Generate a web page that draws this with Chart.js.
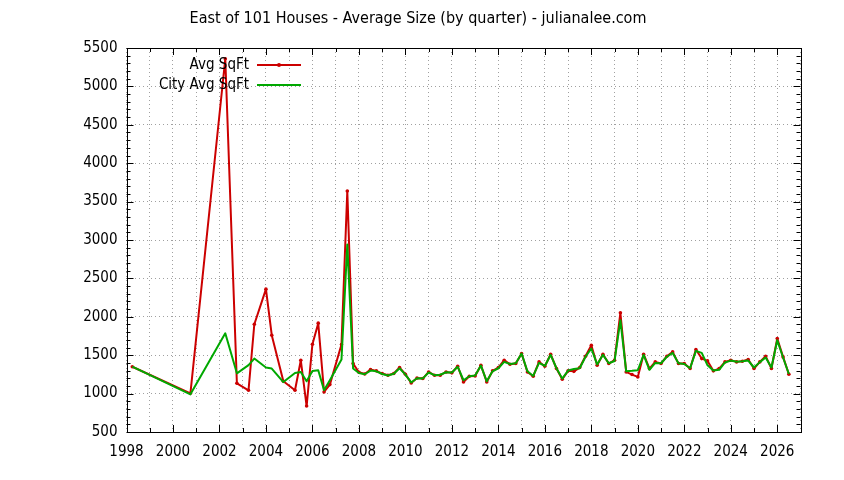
<!DOCTYPE html>
<html>
<head>
<meta charset="utf-8">
<script src="https://cdn.jsdelivr.net/npm/chart.js@4.4.1/dist/chart.umd.min.js"></script>
<style>
  html, body { margin: 0; padding: 0; background: #fff; }
  canvas { display: block; }
</style>
</head>
<body>
<canvas id="chart" width="844" height="480"></canvas>
<script>
// Quarter positions (decimal years) and the two series
const quarters = [
  1998.25, 2000.75, 2002.25, 2002.75, 2003.25, 2003.5, 2004.0, 2004.25, 2004.75,
  2005.25, 2005.5, 2005.75, 2006.0, 2006.25, 2006.5, 2006.75, 2007.25, 2007.5, 2007.75,
  2008.0, 2008.25, 2008.5, 2008.75, 2009.0, 2009.25, 2009.5, 2009.75,
  2010.0, 2010.25, 2010.5, 2010.75, 2011.0, 2011.25, 2011.5, 2011.75,
  2012.0, 2012.25, 2012.5, 2012.75, 2013.0, 2013.25, 2013.5, 2013.75,
  2014.0, 2014.25, 2014.5, 2014.75, 2015.0, 2015.25, 2015.5, 2015.75,
  2016.0, 2016.25, 2016.5, 2016.75, 2017.0, 2017.25, 2017.5, 2017.75,
  2018.0, 2018.25, 2018.5, 2018.75, 2019.0, 2019.25, 2019.5, 2019.75,
  2020.0, 2020.25, 2020.5, 2020.75, 2021.0, 2021.25, 2021.5, 2021.75,
  2022.0, 2022.25, 2022.5, 2022.75, 2023.0, 2023.25, 2023.5, 2023.75,
  2024.0, 2024.25, 2024.5, 2024.75, 2025.0, 2025.25, 2025.5, 2025.75,
  2026.0, 2026.25, 2026.5
];

const avgSqft = [
  1350, 1004, 5360, 1134, 1043, 1903, 2360, 1760, 1160,
  1043, 1434, 838, 1643, 1917, 1021, 1117, 1639, 3638, 1391,
  1278, 1255, 1313, 1296, 1261, 1239, 1261, 1339,
  1252, 1139, 1204, 1196, 1282, 1239, 1239, 1282,
  1270, 1356, 1152, 1226, 1230, 1369, 1152, 1296,
  1339, 1435, 1382, 1391, 1522, 1282, 1226, 1413,
  1356, 1513, 1326, 1187, 1296, 1290, 1339, 1487,
  1630, 1369, 1513, 1391, 1435, 2052, 1282, 1248,
  1217, 1513, 1326, 1413, 1391, 1487, 1543, 1391,
  1391, 1326, 1574, 1456, 1426, 1296, 1326, 1413,
  1435, 1413, 1422, 1443, 1326, 1413, 1487, 1326,
  1717, 1478, 1252
];

const cityAvgSqft = [
  1350, 990, 1785, 1264, 1370, 1456, 1339, 1326, 1150,
  1269, 1282, 1160, 1295, 1304, 1043, 1173, 1443, 2943, 1326,
  1269, 1252, 1300, 1290, 1255, 1235, 1258, 1330,
  1248, 1145, 1200, 1198, 1275, 1240, 1245, 1278,
  1275, 1350, 1174, 1226, 1235, 1365, 1160, 1290,
  1330, 1413, 1385, 1395, 1522, 1290, 1230, 1400,
  1360, 1505, 1330, 1195, 1300, 1320, 1330, 1480,
  1587, 1380, 1505, 1395, 1425, 1956, 1290, 1296,
  1304, 1505, 1310, 1400, 1395, 1480, 1530, 1395,
  1385, 1330, 1556, 1530, 1369, 1300, 1310, 1405,
  1430, 1415, 1420, 1430, 1340, 1410, 1470, 1340,
  1695, 1470, 1255
];

const seriesNames = ["Avg SqFt", "City Avg SqFt"];
const chartTitle = "East of 101 Houses - Average Size (by quarter) - julianalee.com";

const FONT = "'DejaVu Sans Condensed', 'DejaVu Sans', sans-serif";
const RED = "#cc0000";
const GREEN = "#00a800";

// Title, gnuplot-style legend (text left of sample), frame and inward ticks
const gnuplotDecor = {
  id: "gnuplotDecor",
  afterDraw(chart) {
    const { ctx, chartArea: a, scales: { x, y } } = chart;
    ctx.save();

    // title
    ctx.fillStyle = "#000";
    ctx.font = `16px ${FONT}`;
    ctx.textAlign = "center";
    ctx.textBaseline = "middle";
    ctx.fillText(chartTitle, 418, 19);

    // frame
    ctx.strokeStyle = "#000";
    ctx.lineWidth = 1;
    ctx.setLineDash([]);
    ctx.strokeRect(Math.round(a.left) + 0.5, Math.round(a.top) + 0.5,
                   Math.round(a.right - a.left), Math.round(a.bottom - a.top));

    // x ticks: every year, longer on labelled (even) years
    ctx.beginPath();
    for (let yr = Math.ceil(x.min); yr <= x.max; yr++) {
      const px = Math.round(x.getPixelForValue(yr)) + 0.5;
      const len = yr % 2 === 0 ? 7 : 4;
      ctx.moveTo(px, a.bottom); ctx.lineTo(px, a.bottom - len);
      ctx.moveTo(px, a.top);    ctx.lineTo(px, a.top + len);
    }
    // y ticks: minor every 100, major every 500
    for (let v = y.min; v <= y.max; v += 100) {
      const py = Math.round(y.getPixelForValue(v)) + 0.5;
      const len = v % 500 === 0 ? 7 : 4;
      ctx.moveTo(a.left, py);  ctx.lineTo(a.left + len, py);
      ctx.moveTo(a.right, py); ctx.lineTo(a.right - len, py);
    }
    ctx.stroke();

    // legend
    ctx.font = `15px ${FONT}`;
    ctx.textAlign = "right";
    const rows = [
      { label: seriesNames[0], color: RED, marker: true, y: 65 },
      { label: seriesNames[1], color: GREEN, marker: false, y: 85 }
    ];
    rows.forEach(r => {
      ctx.fillStyle = "#000";
      ctx.fillText(r.label, 249, r.y);
      ctx.strokeStyle = r.color;
      ctx.lineWidth = 2;
      ctx.beginPath();
      ctx.moveTo(257, r.y); ctx.lineTo(301, r.y);
      ctx.stroke();
      if (r.marker) {
        ctx.fillStyle = r.color;
        ctx.beginPath();
        ctx.arc(279, r.y, 2, 0, Math.PI * 2);
        ctx.fill();
      }
    });

    ctx.restore();
  }
};

const toPoints = vals => quarters.map((q, i) => ({ x: q, y: vals[i] }));

new Chart(document.getElementById("chart"), {
  type: "line",
  data: {
    datasets: [
      {
        label: seriesNames[0],
        data: toPoints(avgSqft),
        borderColor: RED,
        backgroundColor: RED,
        borderWidth: 2,
        borderJoinStyle: "round",
        pointRadius: 1.8,
        pointBorderWidth: 0,
        tension: 0,
        order: 1
      },
      {
        label: seriesNames[1],
        data: toPoints(cityAvgSqft),
        borderColor: GREEN,
        backgroundColor: GREEN,
        borderWidth: 2,
        borderJoinStyle: "round",
        pointRadius: 0,
        tension: 0,
        order: 0
      }
    ]
  },
  options: {
    responsive: false,
    animation: false,
    layout: { padding: { left: 0, right: 43.5, top: 48, bottom: 0 } },
    plugins: {
      legend: { display: false },
      title: { display: false },
      tooltip: { enabled: false }
    },
    scales: {
      x: {
        type: "linear",
        min: 1998,
        max: 2027,
        afterFit: s => { s.height = 48; },
        ticks: {
          stepSize: 1,
          autoSkip: false,
          maxRotation: 0,
          padding: 11,
          color: "#000",
          font: { family: FONT, size: 15 },
          callback: v => (v % 2 === 0 ? String(v) : "")
        },
        grid: { color: "#a0a0a0", lineWidth: 1, drawTicks: false },
        border: { display: false, dash: [1, 3] }
      },
      y: {
        min: 500,
        max: 5500,
        afterFit: s => { s.width = 126.5; },
        ticks: {
          stepSize: 500,
          padding: 9,
          color: "#000",
          font: { family: FONT, size: 15 },
          callback: v => String(v)
        },
        grid: { color: "#a0a0a0", lineWidth: 1, drawTicks: false },
        border: { display: false, dash: [1, 3] }
      }
    }
  },
  plugins: [gnuplotDecor]
});
</script>
</body>
</html>
